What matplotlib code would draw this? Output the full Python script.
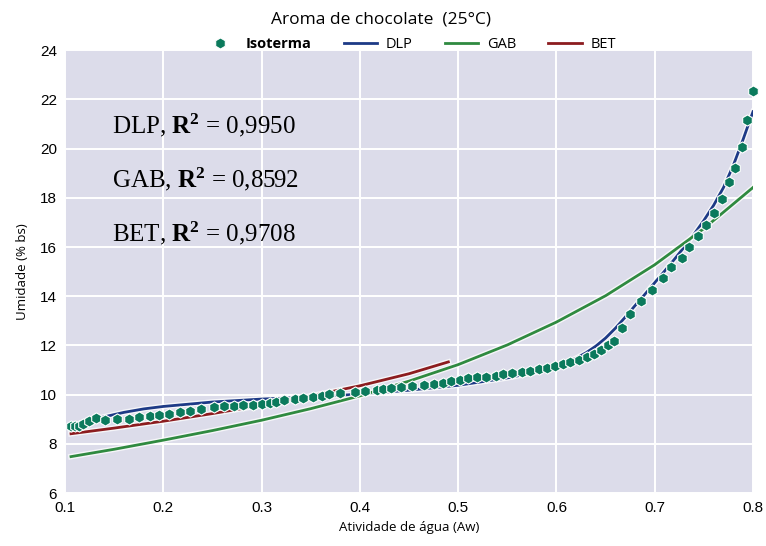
import matplotlib
matplotlib.use('Agg')
from matplotlib import pyplot as plt
from matplotlib import patheffects as pe

# isotherm points (aw, moisture % dry basis)
aw_iso = [0.106, 0.110, 0.114, 0.118, 0.124, 0.131, 0.141, 0.153, 0.165, 0.175,
          0.186, 0.196, 0.206, 0.217, 0.227, 0.238, 0.252, 0.262, 0.272, 0.281,
          0.291, 0.300, 0.308, 0.315, 0.323, 0.334, 0.342, 0.352, 0.361, 0.369,
          0.380, 0.395, 0.405, 0.417, 0.424, 0.432, 0.442, 0.453, 0.465, 0.475,
          0.485, 0.493, 0.502, 0.510, 0.519, 0.528, 0.538, 0.546, 0.555, 0.565,
          0.573, 0.582, 0.590, 0.599, 0.607, 0.614, 0.623, 0.631, 0.638, 0.645,
          0.652, 0.659, 0.667, 0.675, 0.686, 0.697, 0.708, 0.717, 0.728, 0.735,
          0.744, 0.752, 0.760, 0.768, 0.776, 0.782, 0.789, 0.794, 0.800]
umid_iso = [8.71, 8.71, 8.74, 8.81, 8.94, 9.05, 8.98, 9.01, 9.02, 9.08,
            9.12, 9.16, 9.21, 9.28, 9.35, 9.43, 9.50, 9.53, 9.55, 9.56,
            9.59, 9.62, 9.66, 9.72, 9.77, 9.82, 9.86, 9.92, 9.96, 10.01,
            10.06, 10.10, 10.15, 10.20, 10.23, 10.26, 10.30, 10.35, 10.40, 10.44,
            10.49, 10.55, 10.61, 10.66, 10.70, 10.73, 10.76, 10.82, 10.87, 10.93,
            10.97, 11.03, 11.10, 11.17, 11.26, 11.33, 11.41, 11.54, 11.67, 11.83,
            12.00, 12.20, 12.70, 13.29, 13.82, 14.25, 14.74, 15.17, 15.57, 16.00,
            16.44, 16.89, 17.38, 17.96, 18.63, 19.23, 20.07, 21.15, 22.36]

# fitted model curves
aw_dlp = [0.106, 0.12, 0.14, 0.16, 0.18, 0.20, 0.25, 0.30, 0.35, 0.40, 0.45,
          0.50, 0.55, 0.58, 0.60, 0.61, 0.62, 0.63, 0.64, 0.65, 0.66, 0.67,
          0.68, 0.69, 0.70, 0.71, 0.72, 0.73, 0.74, 0.75, 0.76, 0.77, 0.78,
          0.79, 0.80]
umid_dlp = [8.69, 8.90, 9.10, 9.28, 9.42, 9.52, 9.70, 9.82, 9.90, 10.02, 10.18,
            10.38, 10.68, 10.92, 11.14, 11.30, 11.48, 11.70, 11.97, 12.30, 12.70, 13.15,
            13.62, 14.08, 14.55, 15.02, 15.50, 16.00, 16.52, 17.08, 17.70, 18.42, 19.32,
            20.38, 21.50]

aw_gab = [0.106, 0.15, 0.20, 0.25, 0.30, 0.35, 0.40, 0.45, 0.50, 0.55, 0.60,
          0.65, 0.70, 0.75, 0.80]
umid_gab = [7.48, 7.78, 8.15, 8.54, 8.96, 9.43, 9.95, 10.55, 11.22, 12.02, 12.95,
            14.02, 15.28, 16.75, 18.42]

aw_bet = [0.106, 0.15, 0.20, 0.25, 0.30, 0.35, 0.40, 0.45, 0.49]
umid_bet = [8.41, 8.64, 8.92, 9.23, 9.57, 9.95, 10.36, 10.85, 11.33]

r2_labels = ['DLP', 'GAB', 'BET']
r2_values = ['0,9950', '0,8592', '0,9708']

x_ticks = [0.1, 0.2, 0.3, 0.4, 0.5, 0.6, 0.7, 0.8]
y_ticks = [6, 8, 10, 12, 14, 16, 18, 20, 22, 24]

plt.rcParams['mathtext.fontset'] = 'custom'
plt.rcParams['mathtext.rm'] = 'Liberation Serif'
plt.rcParams['mathtext.bf'] = 'Liberation Serif:bold'

fig = plt.figure(figsize=(7.66, 5.46), dpi=100)
ax = fig.add_axes([0.085, 0.097, 0.898, 0.811])
ax.set_facecolor('#dcdcea')
for s in ax.spines.values():
    s.set_visible(False)
ax.grid(True, color='white', linewidth=1.4)
ax.set_axisbelow(True)

halo = [pe.Stroke(linewidth=4, foreground='white', alpha=0.75), pe.Normal()]

pts, = ax.plot(aw_iso, umid_iso, linestyle='none', marker='h', markersize=8,
               color='#0b7a5c', markeredgecolor='white', markeredgewidth=0.8,
               clip_on=False, zorder=3, label='Isoterma')
l_dlp, = ax.plot(aw_dlp, umid_dlp, color='#1d3a86', linewidth=2, zorder=2,
                 path_effects=halo, label='DLP')
l_gab, = ax.plot(aw_gab, umid_gab, color='#2f8a40', linewidth=2, zorder=2,
                 path_effects=halo, label='GAB')
l_bet, = ax.plot(aw_bet, umid_bet, color='#8c1c1f', linewidth=2, zorder=2,
                 path_effects=halo, label='BET')

ax.set_xlim(0.1, 0.8)
ax.set_ylim(6, 24)
ax.set_xticks(x_ticks)
ax.set_yticks(y_ticks)
ax.set_xticklabels([f'{t:.1f}' for t in x_ticks])
ax.tick_params(length=0, pad=6)
for lab in ax.get_xticklabels() + ax.get_yticklabels():
    lab.set_family(['Liberation Sans Narrow', 'Liberation Sans'])
    lab.set_fontsize(11)

lab_font = dict(family=['Open Sans', 'DejaVu Sans'], fontsize=9.5)
ax.set_xlabel('Atividade de água (Aw)', labelpad=4, **lab_font)
ax.set_ylabel('Umidade (% bs)', labelpad=8, **lab_font)

fig.text(0.497, 0.965, 'Aroma de chocolate  (25°C)', ha='center', va='center',
         family=['Open Sans', 'DejaVu Sans'], fontsize=12.5)

leg = fig.legend(handles=[pts, l_dlp, l_gab, l_bet], loc='center',
                 bbox_to_anchor=(0.535, 0.918), ncol=4, frameon=False,
                 handlelength=2.3, columnspacing=2.2, handletextpad=0.6,
                 prop=dict(family=['Open Sans', 'DejaVu Sans'], size=10.5))
leg.get_texts()[0].set_fontweight('bold')

for i, (name, val) in enumerate(zip(r2_labels, r2_values)):
    ax.text(0.148, 20.95 - 2.2 * i, f'{name}, ' + r'$\mathbf{R^2}$' + f' = {val}',
            family='Liberation Serif', fontsize=18, va='center', ha='left')

fig.savefig('out.png', dpi=100)
